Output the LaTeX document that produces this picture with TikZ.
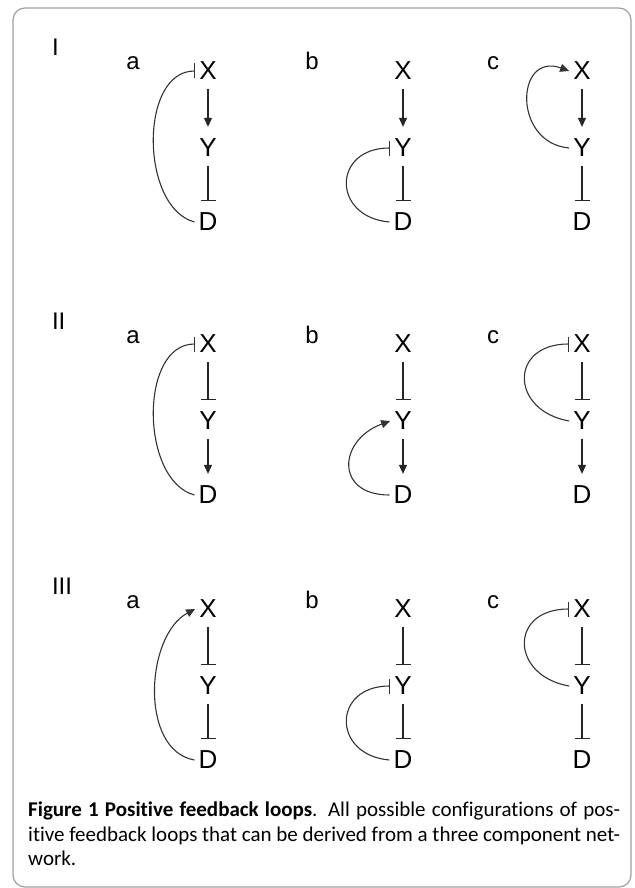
\documentclass[tikz,border=0pt]{standalone}
\usepackage{fontspec}
\setmainfont{Carlito}[RawFeature=-liga]
\newfontfamily\arialfont{Liberation Sans}
\usetikzlibrary{arrows.meta}

\tikzset{
  comp/.style={font=\arialfont\fontsize{26}{26}\selectfont,inner sep=4pt},
  tag/.style={font=\arialfont\fontsize{24}{24}\selectfont,anchor=base},
  act/.style={-{Triangle[length=9pt,width=8pt]}},
  inh/.style={-{Bar[width=15pt]}},
  edge/.style={draw=black!85,line width=1.1pt,shorten <=5pt,shorten >=8pt},
  fb/.style={draw=black!80,line width=1.1pt},
}

\begin{document}
\begin{tikzpicture}[x=1pt,y=-1pt]
  \useasboundingbox (0,0) rectangle (634,888);
  \draw[gray!75,line width=1.2pt,rounded corners=12pt] (13,8) rectangle (631,887);

  % rows I, II, III
  \foreach \r/\ry in {I/0,II/273,III/538} {
    \node[tag,anchor=base west] at (48.5,{56+\ry}) {\r};
    \foreach \c/\cx/\lx in {a/208/133,b/403/312,c/582/493} {
      \node[tag] at (\lx,{70+\ry}) {\c};
      \node[comp] (\r\c-X) at (\cx,{71+\ry}) {X};
      \node[comp] (\r\c-Y) at (\cx,{148+\ry}) {Y};
      \node[comp] (\r\c-D) at (\cx,{222+\ry}) {D};
    }
  }

  % row I
  \foreach \c in {a,b,c} {
    \draw[edge,act] (I\c-X) -- (I\c-Y);
    \draw[edge,inh] (I\c-Y) -- (I\c-D);
  }
  \draw[fb,inh] (Ia-D.west) to[out=165,in=180,looseness=0.95] (Ia-X.west);
  \draw[fb,inh] (Ib-D.west) to[out=175,in=180,looseness=2] (Ib-Y.west);
  \draw[fb,act] (Ic-Y.west) to[out=175,in=160,looseness=1.9] (Ic-X.west);

  % row II
  \foreach \c in {a,b,c} {
    \draw[edge,inh] (II\c-X) -- (II\c-Y);
    \draw[edge,act] (II\c-Y) -- (II\c-D);
  }
  \draw[fb,inh] (IIa-D.west) to[out=165,in=180,looseness=0.95] (IIa-X.west);
  \draw[fb,act] (IIb-D.west) to[out=180,in=200,looseness=1.9] (IIb-Y.west);
  \draw[fb,inh] (IIc-Y.west) to[out=170,in=180,looseness=2] (IIc-X.west);

  % row III
  \foreach \c in {a,b,c} {
    \draw[edge,inh] (III\c-X) -- (III\c-Y);
    \draw[edge,inh] (III\c-Y) -- (III\c-D);
  }
  \draw[fb,act] (IIIa-D.west) to[out=170,in=208,looseness=0.95] (IIIa-X.west);
  \draw[fb,inh] (IIIb-D.west) to[out=175,in=180,looseness=2] (IIIb-Y.west);
  \draw[fb,inh] (IIIc-Y.west) to[out=170,in=180,looseness=2] (IIIc-X.west);

  \node[anchor=north west,text width=592pt,align=justify,inner sep=0pt,
        font=\fontsize{21}{24.5}\selectfont] (caption) at (28,802)
    {\textbf{Figure 1 Positive feedback loops}. All possible configurations of pos-\linebreak
     itive feedback loops that can be derived from a three component net-\linebreak
     work.};
\end{tikzpicture}
\end{document}
